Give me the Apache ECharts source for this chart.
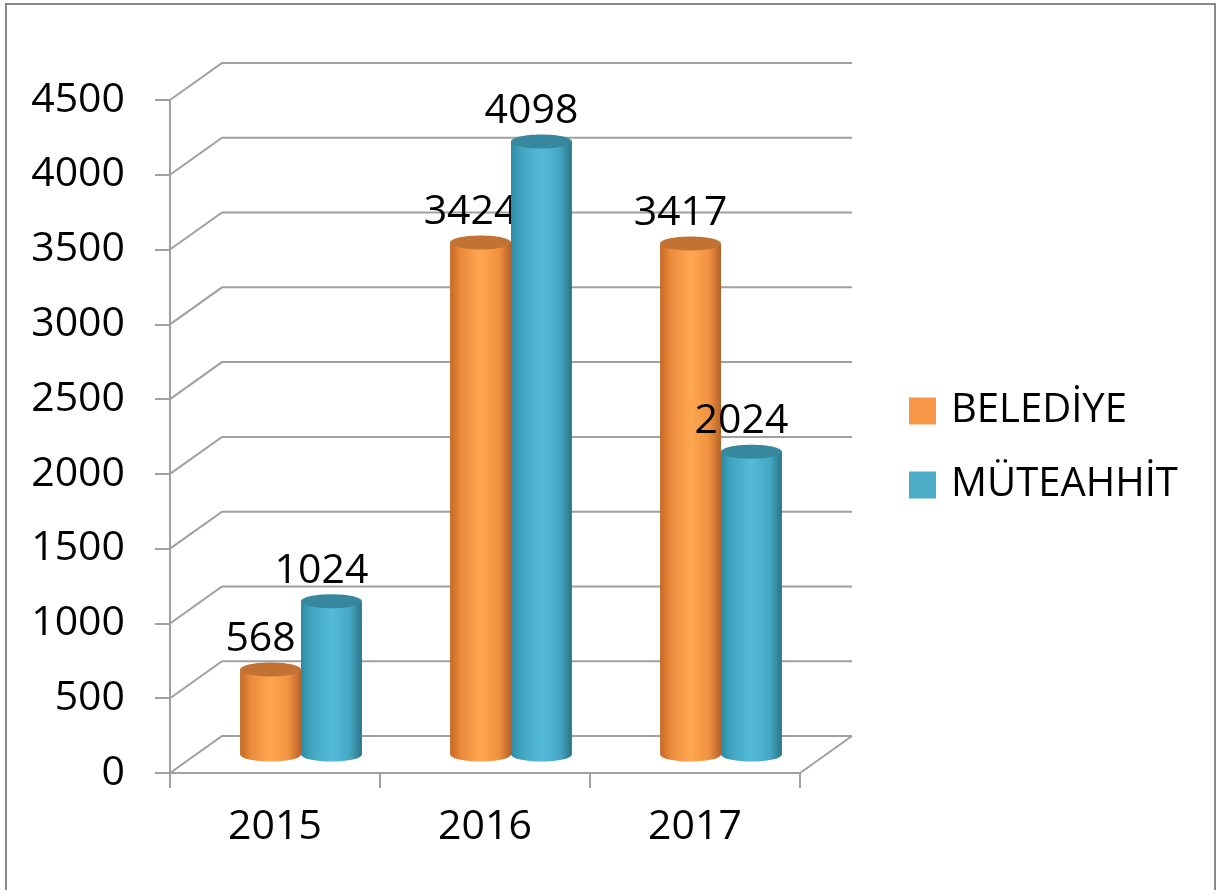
<!DOCTYPE html>
<html>
<head>
<meta charset="utf-8">
<script src="https://cdn.jsdelivr.net/npm/echarts@6/dist/echarts.min.js"></script>
<style>
  html, body { margin: 0; padding: 0; background: #fff; }
  #main { width: 1216px; height: 890px; }
</style>
</head>
<body>
<div id="main"></div>
<script>
// data
var years = ['2015', '2016', '2017'];
var belediye = [568, 3424, 3417];
var muteahhit = [1024, 4098, 2024];
var yTicks = [0, 500, 1000, 1500, 2000, 2500, 3000, 3500, 4000, 4500];

var FONT = '"Open Sans", "Noto Sans", sans-serif';
var GRID_COLOR = '#a0a0a0';
// depth of the 3d box (back wall offset)
var DX = 52, DY = -37;

var myChart = echarts.init(document.getElementById('main'));

/**
 * 3d gridlines : side wall + back wall
 */
function renderGrid(params, api) {
    var p = api.coord([0, api.value(1)]);
    var x0 = params.coordSys.x;
    var w = params.coordSys.width;
    var y = p[1];
    var children = [{
        type: 'polyline',
        shape: { points: [[x0, y], [x0 + DX, y + DY], [x0 + w + DX, y + DY]] },
        style: { stroke: GRID_COLOR, lineWidth: 2, fill: null }
    }];
    if (api.value(1) === 0) {
        children.push({
            type: 'line',
            shape: { x1: x0 + w, y1: y, x2: x0 + w + DX, y2: y + DY },
            style: { stroke: GRID_COLOR, lineWidth: 2 }
        });
    }
    return { type: 'group', children: children };
}

/**
 * cylinder bars
 */
function makeCylinder(side, bodyStops, topColor) {
    return function (params, api) {
        var ci = api.value(0);
        var v = api.value(1);
        var top = api.coord([ci, v]);
        var base = api.coord([ci, 0]);
        var band = api.size([1, 0])[0];
        var w = band * 0.29;
        var cx = top[0] + DX / 2;
        var xl = side === 0 ? cx - w : cx;
        var xr = xl + w;
        var yt = top[1] + DY / 2;
        var yb = base[1] + DY / 2;
        var rx = w / 2, ry = 7;
        var path = 'M' + xl + ',' + yt + ' L' + xl + ',' + yb +
            ' A' + rx + ',' + ry + ' 0 0 0 ' + xr + ',' + yb +
            ' L' + xr + ',' + yt + ' Z';
        return {
            type: 'group',
            children: [{
                type: 'path',
                shape: { pathData: path },
                style: { fill: new echarts.graphic.LinearGradient(0, 0, 1, 0, bodyStops) }
            }, {
                type: 'ellipse',
                shape: { cx: xl + rx, cy: yt, rx: rx, ry: ry },
                style: { fill: topColor }
            }, {
                type: 'text',
                style: {
                    text: String(v),
                    x: xl + rx - 10,
                    y: yt - ry - 3,
                    align: 'center',
                    verticalAlign: 'bottom',
                    textAlign: 'center',
                    textVerticalAlign: 'bottom',
                    font: '41px ' + FONT,
                    fill: '#000'
                }
            }]
        };
    };
}

var orangeStops = [
    { offset: 0, color: '#c46a26' },
    { offset: 0.18, color: '#eb8b3c' },
    { offset: 0.5, color: '#ffa750' },
    { offset: 0.8, color: '#f0923f' },
    { offset: 1, color: '#b5612a' }
];
var blueStops = [
    { offset: 0, color: '#2d8aa3' },
    { offset: 0.18, color: '#42a6c2' },
    { offset: 0.5, color: '#53bbd9' },
    { offset: 0.8, color: '#44a8c4' },
    { offset: 1, color: '#2a7387' }
];

function toData(arr) {
    var d = [];
    for (var i = 0; i < arr.length; i++) d.push([i, arr[i]]);
    return d;
}

myChart.setOption({
    animation: false,
    backgroundColor: '#fff',
    graphic: [{
        type: 'rect',
        shape: { x: 6, y: 4, width: 1209, height: 900 },
        style: { fill: null, stroke: '#888', lineWidth: 2 },
        silent: true
    }],
    legend: {
        orient: 'vertical',
        left: 909,
        top: 391,
        padding: 0,
        itemWidth: 27,
        itemHeight: 27,
        itemGap: 34,
        icon: 'rect',
        data: ['BELEDİYE', 'MÜTEAHHİT'],
        textStyle: {
            fontSize: 40,
            lineHeight: 40,
            fontFamily: FONT,
            color: '#000',
            padding: [0, 0, 0, 10]
        }
    },
    grid: {
        left: 170,
        right: 416,
        top: 100,
        bottom: 117
    },
    xAxis: {
        type: 'category',
        data: years,
        boundaryGap: true,
        axisLine: { lineStyle: { color: GRID_COLOR, width: 2 } },
        axisTick: { show: true, length: 15, lineStyle: { color: GRID_COLOR, width: 2 } },
        axisLabel: { fontSize: 41, fontFamily: FONT, color: '#000', margin: 34 }
    },
    yAxis: {
        type: 'value',
        min: 0,
        max: 4500,
        interval: 500,
        axisLine: { show: true, lineStyle: { color: GRID_COLOR, width: 2 } },
        axisTick: { show: true, length: 15, lineStyle: { color: GRID_COLOR, width: 2 } },
        splitLine: { show: false },
        axisLabel: {
            fontSize: 41, fontFamily: FONT, color: '#000', margin: 45,
            formatter: function (v) { return String(v); }
        }
    },
    series: [{
        name: 'grid3d',
        type: 'custom',
        clip: false,
        silent: true,
        z: 1,
        renderItem: renderGrid,
        data: yTicks.map(function (v) { return [0, v]; })
    }, {
        name: 'BELEDİYE',
        type: 'custom',
        clip: false,
        z: 3,
        itemStyle: { color: '#f79646' },
        renderItem: makeCylinder(0, orangeStops, '#c27333'),
        data: toData(belediye)
    }, {
        name: 'MÜTEAHHİT',
        type: 'custom',
        clip: false,
        z: 4,
        itemStyle: { color: '#4bacc6' },
        renderItem: makeCylinder(1, blueStops, '#37889f'),
        data: toData(muteahhit)
    }]
});
</script>
</body>
</html>
